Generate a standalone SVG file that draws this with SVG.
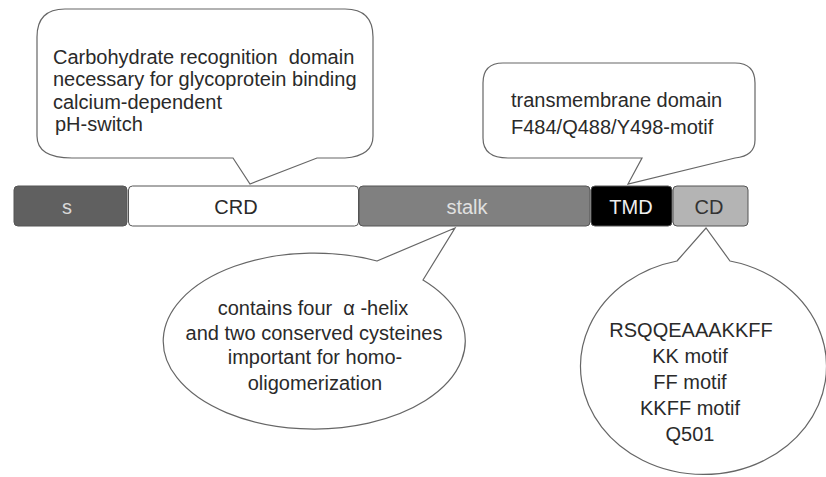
<svg xmlns="http://www.w3.org/2000/svg" width="826" height="477" viewBox="0 0 826 477">
<style>
text{font-family:"Liberation Sans",Arial,sans-serif;font-size:20px;fill:#2a2a2a}
.c{text-anchor:middle}
.callout{fill:#fff;stroke:#666;stroke-width:1.2}
.seg{stroke:#555;stroke-width:1}
</style>
<rect width="826" height="477" fill="#fff"/>
<g id="connectors">
</g>
<g id="callout-crd">
<path class="callout" d="M65,9 H345 Q373,9 373,37 V136 Q373,156 345,158 H317 L250,184 L233,158 H72 Q37,158 37,136 V37 Q37,9 65,9 Z"/>
<text x="53" y="64" xml:space="preserve">Carbohydrate recognition  domain</text>
<text x="53" y="86">necessary for glycoprotein binding</text>
<text x="53" y="108.5">calcium-dependent</text>
<text x="55" y="131">pH-switch</text>
</g>
<g id="callout-tmd">
<path class="callout" d="M503,63 H735 Q755,63 755,83 V140 Q755,156 735,158 L628,184 L642,158 H508 Q483,158 483,138 V83 Q483,63 503,63 Z"/>
<text x="511" y="107">transmembrane domain</text>
<text x="511" y="134">F484/Q488/Y498-motif</text>
</g>
<g id="seg-s">
<rect class="seg" x="14" y="186" width="113" height="40" rx="4" fill="#606060"/>
<text class="c" x="67" y="214" style="fill:#d8d8d8">s</text>
</g>
<g id="seg-crd">
<rect class="seg" x="128.5" y="186" width="230" height="40" rx="4" fill="#fff" stroke="#777"/>
<text class="c" x="236" y="214">CRD</text>
</g>
<g id="seg-stalk">
<rect class="seg" x="359" y="186" width="231" height="40" rx="4" fill="#808080"/>
<text class="c" x="467" y="214" style="fill:#e0e0e0">stalk</text>
</g>
<g id="seg-tmd">
<rect class="seg" x="591" y="186" width="81" height="40" rx="4" fill="#000"/>
<text class="c" x="631" y="214" style="fill:#eee">TMD</text>
</g>
<g id="seg-cd">
<rect class="seg" x="673" y="186" width="75" height="40" rx="4" fill="#b4b4b4"/>
<text class="c" x="709" y="214" style="fill:#333">CD</text>
</g>
<g id="callout-stalk">
<path class="callout" d="M377,261 L455,228 L423,280 A151 88 0 1 1 377,261 Z"/>
<text class="c" x="313" y="315" xml:space="preserve">contains four  α -helix</text>
<text class="c" x="314" y="340">and two conserved cysteines</text>
<text class="c" x="315" y="364">important for homo-</text>
<text class="c" x="315" y="390">oligomerization</text>
</g>
<g id="callout-cd">
<path class="callout" d="M677,261 L706,228 L730,261 A123 108 0 1 1 677,261 Z"/>
<text class="c" x="691" y="337">RSQQEAAAKKFF</text>
<text class="c" x="690" y="363">KK motif</text>
<text class="c" x="690" y="389">FF motif</text>
<text class="c" x="690" y="415">KKFF motif</text>
<text class="c" x="690" y="441">Q501</text>
</g>
</svg>
